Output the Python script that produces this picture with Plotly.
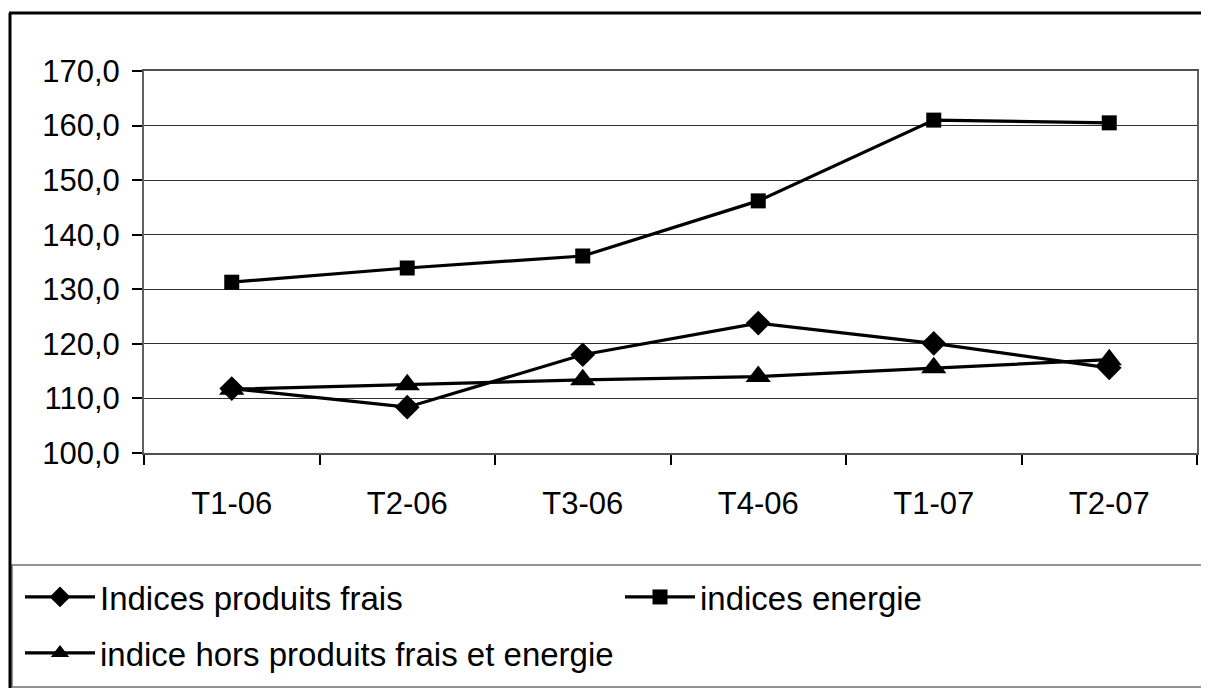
import plotly.graph_objects as go

categories = ["T1-06", "T2-06", "T3-06", "T4-06", "T1-07", "T2-07"]
produits_frais = [111.8, 108.4, 118.0, 123.8, 120.1, 115.6]
energie = [131.3, 133.9, 136.1, 146.2, 161.0, 160.5]
hors_frais_energie = [111.7, 112.5, 113.4, 114.0, 115.6, 117.1]

names = ["Indices produits frais", "indices energie", "indice hors produits frais et energie"]

FONT = "Liberation Sans, Arial, sans-serif"

# page offset (browser body margin)
OFF = 8
W, H = 1209, 688
# plot area in page pixels
L, R, T, B = 144 - OFF, 1197 - OFF, 71 - OFF, 453 - OFF
def px(x):
    return (x - OFF - L) / (R - L)
def py(y):
    return (B - (y - OFF)) / (B - T)

fig = go.Figure()
fig.add_trace(go.Scatter(x=categories, y=produits_frais, name=names[0], mode="lines+markers",
                         line=dict(color="black", width=3.2),
                         marker=dict(symbol="diamond", size=19, color="black"),
                         legend="legend"))
fig.add_trace(go.Scatter(x=categories, y=energie, name=names[1], mode="lines+markers",
                         line=dict(color="black", width=3.2),
                         marker=dict(symbol="square", size=15, color="black"),
                         legend="legend2"))
fig.add_trace(go.Scatter(x=categories, y=hors_frais_energie, name=names[2], mode="lines+markers",
                         line=dict(color="black", width=3.2),
                         marker=dict(symbol="triangle-up", size=22, color="black"),
                         legend="legend3"))

shapes = [
    # legend box
    dict(type="rect", xref="paper", yref="paper", x0=px(12), x1=px(1230), y0=py(687), y1=py(565),
         line=dict(color="#707070", width=1.5), layer="above"),
    # outer frame left and top
    dict(type="line", xref="paper", yref="paper", x0=px(10), x1=px(10), y0=py(710), y1=py(13),
         line=dict(color="black", width=3)),
    dict(type="line", xref="paper", yref="paper", x0=px(9), x1=px(1230), y0=py(13), y1=py(13),
         line=dict(color="black", width=3)),
]

legend_common = dict(orientation="h", xanchor="left", yanchor="middle",
                     font=dict(family=FONT, size=33, color="black"),
                     itemwidth=70, bgcolor="rgba(0,0,0,0)", borderwidth=0)

fig.update_layout(
    width=W, height=H,
    margin=dict(l=L, r=W - R, t=T, b=H - B, pad=0),
    paper_bgcolor="white", plot_bgcolor="white",
    separators=", ",
    font=dict(family=FONT, size=31, color="black"),
    showlegend=True,
    legend=dict(x=px(20), y=py(597), **legend_common),
    legend2=dict(x=px(620), y=py(597), **legend_common),
    legend3=dict(x=px(20), y=py(653), **legend_common),
    shapes=shapes,
    xaxis=dict(type="category", range=[-0.5, 5.5], showgrid=False,
               showline=True, linecolor="#505050", linewidth=2, mirror=True,
               ticks="outside", tickson="boundaries", ticklen=10, tickwidth=1.5, tickcolor="black",
               ticklabelstandoff=22, tickfont=dict(size=31)),
    yaxis=dict(range=[100, 170], dtick=10, tick0=100, tickformat=".1f",
               showgrid=True, gridcolor="#303030", gridwidth=1,
               showline=True, linecolor="#606060", linewidth=2, mirror=True,
               ticks="outside", ticklen=10, tickwidth=1.5, tickcolor="black",
               ticklabelstandoff=6, tickfont=dict(size=31), zeroline=False),
)

fig.write_html("out.html")
